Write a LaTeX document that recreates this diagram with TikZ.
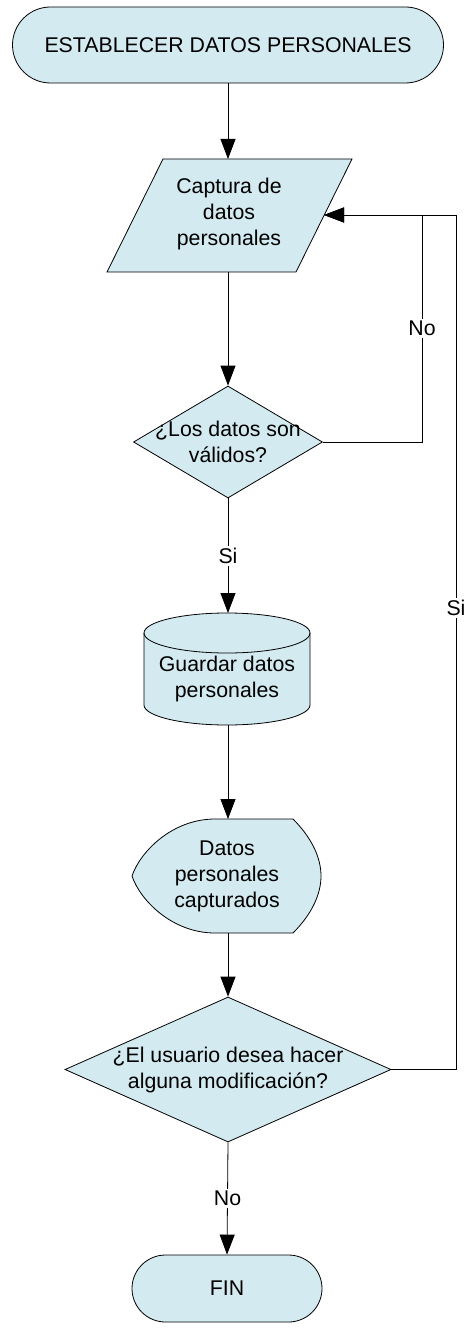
\documentclass[tikz,border=0pt]{standalone}
\usepackage{fontspec}
\setmainfont{Liberation Sans}
\usetikzlibrary{shapes.geometric,arrows.meta}
\definecolor{fillblue}{RGB}{210,234,240}
\begin{document}
\begin{tikzpicture}[x=1pt,y=-1pt,
  every node/.style={font=\fontsize{21.3}{26}\selectfont},
  shapeline/.style={draw=black,line width=0.8pt,fill=fillblue},
  term/.style={shapeline,rectangle,inner sep=0pt},
  decision/.style={shapeline,diamond,inner sep=0pt},
  txt/.style={align=center,inner sep=0pt},
  conn/.style={draw=black,line width=0.8pt,-{Triangle[length=20pt,width=15pt]}},
  lab/.style={fill=white,inner sep=2pt}
]
\useasboundingbox (0,0) rectangle (466,1329);

% start terminator
\node[term,minimum width=431pt,minimum height=76pt,rounded corners=38pt] (start) at (228,45) {ESTABLECER DATOS PERSONALES};

% input parallelogram
\coordinate (captop) at (228,159);
\coordinate (capbot) at (228,272);
\coordinate (capright) at (324,215);
\draw[shapeline] (163,159) -- (352,159) -- (296,272) -- (107,272) -- cycle;
\node[txt] (cap) at (229,214) {Captura de\\datos\\personales};

% decision 1
\node[decision,minimum width=189pt,minimum height=112pt] (d1) at (228,442) {};
\node[txt] (d1t) at (228,442) {¿Los datos son\\válidos?};

% storage cylinder
\coordinate (cyltop) at (228,613);
\coordinate (cylbot) at (228,725);
\draw[shapeline] (144,633) -- (144,705)
  .. controls (144,716.05) and (181.2,725) .. (227,725)
  .. controls (272.8,725) and (310,716.05) .. (310,705)
  -- (310,633)
  .. controls (310,621.95) and (272.8,613) .. (227,613)
  .. controls (181.2,613) and (144,621.95) .. (144,633) -- cycle;
\draw[line width=0.8pt] (144,633) .. controls (144,644.05) and (181.2,653) .. (227,653)
  .. controls (272.8,653) and (310,644.05) .. (310,633);
\node[txt] (cylt) at (227,679) {Guardar datos\\personales};

% display shape
\coordinate (disptop) at (228,819);
\coordinate (dispbot) at (228,933);
\draw[shapeline] (215,819) -- (293,819)
  .. controls (312,838) and (321,858) .. (321,876)
  .. controls (321,894) and (312,914) .. (293,933)
  -- (215,933)
  .. controls (172,933) and (140,900) .. (132,876)
  .. controls (140,852) and (172,819) .. (215,819) -- cycle;
\node[txt] (dispt) at (227,876) {Datos\\personales\\capturados};

% decision 2
\node[decision,minimum width=326pt,minimum height=145pt] (d2) at (228,1069.5) {};
\node[txt] (d2t) at (228,1070) {¿El usuario desea hacer\\alguna modificación?};

% end terminator
\node[term,minimum width=190pt,minimum height=67pt,rounded corners=33.5pt] (fin) at (227,1288.5) {FIN};

% loop corners
\coordinate (loopA) at (422,215);
\coordinate (loopB) at (456,215);

% connectors
\draw[conn] (start.south) -- (captop);
\draw[conn] (capbot) -- (d1.north);
\draw[conn] (d1.south) -- node[lab] (si1) {Si} (cyltop);
\draw[conn] (d1.east) -| node[lab,pos=0.75] (no1) {No} (loopA) -- (capright);
\draw[conn] (cylbot) -- (disptop);
\draw[conn] (dispbot) -- (d2.north);
\draw[conn] (d2.east) -| node[lab,pos=0.77] (si2) {Si} (loopB) -- (capright);
\draw[conn] (d2.south) -- node[lab] (no2) {No} (fin.north);
\end{tikzpicture}
\end{document}
